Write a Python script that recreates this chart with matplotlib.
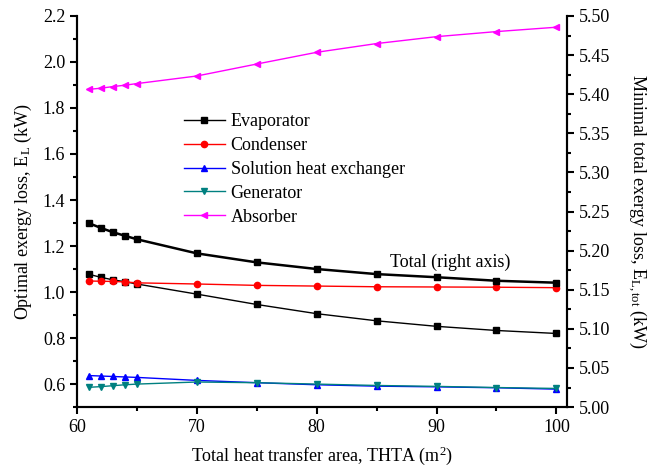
import numpy as np
import matplotlib.pyplot as plt

plt.rcParams["font.family"] = "Liberation Serif"
plt.rcParams["mathtext.fontset"] = "custom"
plt.rcParams["mathtext.rm"] = "Liberation Serif"
plt.rcParams["mathtext.it"] = "Liberation Serif:italic"
plt.rcParams["font.size"] = 13

# total heat transfer area, m2
thta = [61, 62, 63, 64, 65, 70, 75, 80, 85, 90, 95, 100]

# component exergy losses (kW), left axis
evaporator = [1.077, 1.064, 1.053, 1.045, 1.035, 0.991, 0.946, 0.906, 0.875, 0.851, 0.833, 0.820]
condenser = [1.048, 1.047, 1.046, 1.044, 1.040, 1.035, 1.029, 1.026, 1.023, 1.022, 1.021, 1.019]
shx = [0.637, 0.635, 0.633, 0.631, 0.629, 0.616, 0.606, 0.597, 0.591, 0.588, 0.584, 0.578]
generator = [0.586, 0.589, 0.593, 0.597, 0.600, 0.609, 0.606, 0.600, 0.594, 0.590, 0.585, 0.581]
absorber = [1.881, 1.886, 1.893, 1.899, 1.906, 1.939, 1.991, 2.042, 2.080, 2.110, 2.132, 2.151]

# total exergy loss (kW), right axis
total = [5.235, 5.229, 5.2235, 5.219, 5.2145, 5.1965, 5.185, 5.1765, 5.170, 5.166, 5.1615, 5.159]

fig = plt.figure(figsize=(6.61, 4.69), dpi=100)
ax = fig.add_axes([0.1165, 0.132, 0.7415, 0.834])
ax2 = ax.twinx()

ms = 4.5
ax.plot(thta, evaporator, "-s", color="black", lw=1.0, ms=ms, label="Evaporator")
ax.plot(thta, condenser, "-o", color="red", lw=1.0, ms=ms, label="Condenser")
ax.plot(thta, shx, "-^", color="blue", lw=1.0, ms=ms, label="Solution heat exchanger")
ax.plot(thta, generator, "-v", color="#008080", lw=1.0, ms=ms, label="Generator")
ax.plot(thta, absorber, "-<", color="magenta", lw=1.0, ms=ms, label="Absorber")
ax2.plot(thta, total, "-s", color="black", lw=1.8, ms=ms)

ax.set_xlim(60, 100.9)
ax.set_ylim(0.5, 2.2)
ax2.set_ylim(5.0, 5.5)

ax.set_xticks(np.arange(60, 101, 10))
ax.set_xticks(np.arange(65, 101, 10), minor=True)
ax.set_yticks(np.arange(0.6, 2.21, 0.2))
ax.set_yticks(np.arange(0.5, 2.21, 0.1), minor=True)
ax2.set_yticks(np.arange(5.0, 5.51, 0.05))
ax2.set_yticks(np.arange(5.025, 5.5, 0.05), minor=True)
ax.yaxis.set_major_formatter(plt.FormatStrFormatter("%.1f"))
ax2.yaxis.set_major_formatter(plt.FormatStrFormatter("%.2f"))

for a in (ax, ax2):
    a.spines["top"].set_visible(False)
    for s in ("left", "right", "bottom"):
        a.spines[s].set_linewidth(1.5)
    a.tick_params(which="major", direction="out", length=5, width=1.5, labelsize=13)
    a.tick_params(which="minor", direction="out", length=3, width=1.5)

ax.set_xlabel("Total heat transfer area, THTA (m$^2$)", fontsize=13, labelpad=6)
ax.set_ylabel("Optimal exergy loss, E$_\\mathrm{L}$ (kW)", fontsize=13, labelpad=6)
ax2.set_ylabel("Minimal total exergy loss, E$_\\mathrm{L,tot}$ (kW)", fontsize=13,
               rotation=270, labelpad=28)

ax.legend(loc="upper left", bbox_to_anchor=(0.203, 0.77), frameon=False, fontsize=13,
          handlelength=2.3, handletextpad=0.3, labelspacing=0.38, borderaxespad=0)
ax.text(86.1, 1.13, "Total (right axis)", fontsize=13, va="center")

fig.savefig("out.png", dpi=100)
